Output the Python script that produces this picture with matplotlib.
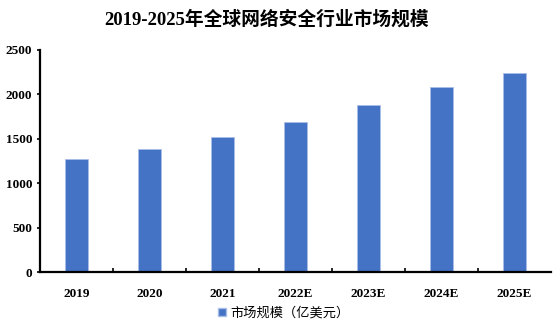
import matplotlib
matplotlib.use("Agg")
import matplotlib.pyplot as plt
from matplotlib.patches import Patch

years = ["2019", "2020", "2021", "2022E", "2023E", "2024E", "2025E"]
market_size = [1270, 1385, 1516, 1689, 1880, 2080, 2240]
yticks = [0, 500, 1000, 1500, 2000, 2500]

serif = ["Liberation Serif", "Noto Sans CJK SC"]
cjk = ["Noto Sans CJK SC", "DejaVu Sans"]

fig = plt.figure(figsize=(5.59, 3.28), dpi=100)
ax = fig.add_axes([0.0716, 0.170, 0.914, 0.6776])

x = range(len(years))
ax.bar(x, market_size, width=0.32, color="#4472C4", edgecolor="#A9BEE6", linewidth=0.6)

ax.set_xlim(-0.5, len(years) - 0.5)
ax.set_ylim(0, 2500)
ax.set_yticks(yticks)
ax.set_yticklabels([str(v) for v in yticks], family=serif, fontweight="bold", fontsize=9.5)
ax.set_xticks(list(x))
ax.set_xticklabels(years, family=serif, fontweight="bold", fontsize=9.5)

# category boundary ticks on x axis, pointing up
ax.set_xticks([i + 0.5 for i in range(len(years) - 1)], minor=True)
ax.tick_params(axis="x", which="major", length=0, pad=11)
ax.tick_params(axis="x", which="minor", direction="in", length=3, width=1.2)
ax.tick_params(axis="y", direction="out", length=2.5, width=1.2, pad=3)

for s in ["top", "right"]:
    ax.spines[s].set_visible(False)
for s in ["left", "bottom"]:
    ax.spines[s].set_linewidth(1.6)
    ax.spines[s].set_color("black")

fig.text(0.476, 0.94, "2019-2025年全球网络安全行业市场规模", ha="center", va="center",
         family=serif, fontweight="bold", fontsize=13.5)

handle = Patch(facecolor="#4472C4", edgecolor="#A9BEE6")
fig.legend([handle], ["市场规模（亿美元）"], loc="center", bbox_to_anchor=(0.508, 0.045),
           frameon=False, prop={"family": cjk, "size": 9.5},
           handlelength=0.6, handleheight=0.6, handletextpad=0.3)

fig.savefig("out.png", dpi=100)
